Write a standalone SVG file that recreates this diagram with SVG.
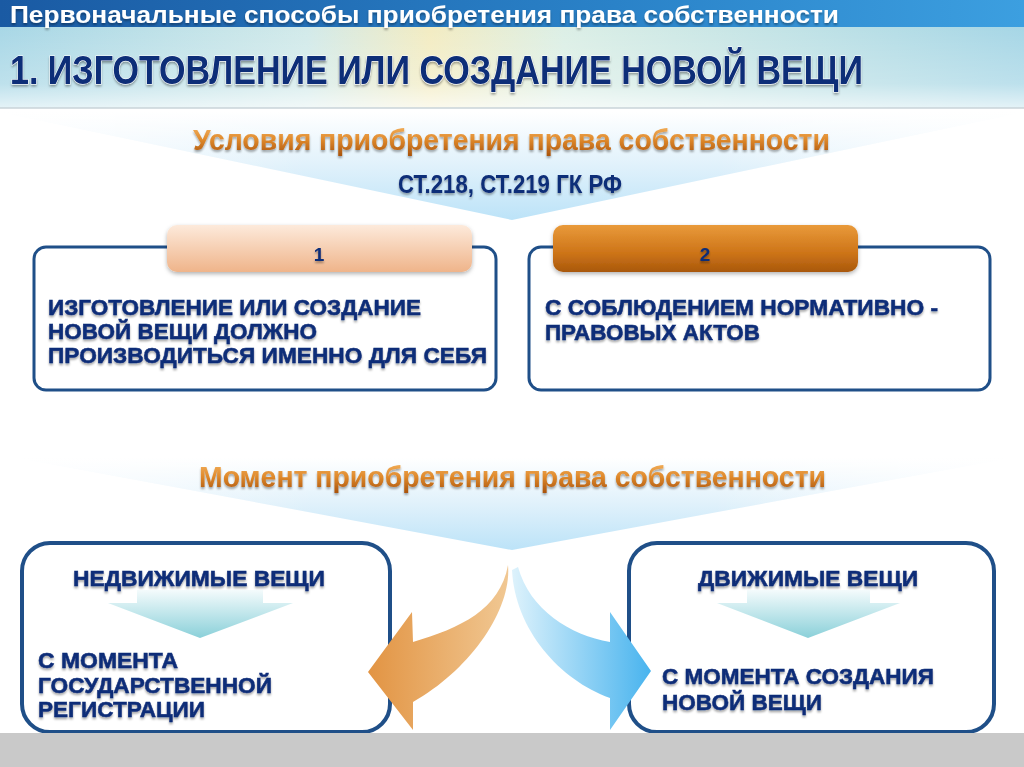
<svg xmlns="http://www.w3.org/2000/svg" width="1024" height="767" viewBox="0 0 1024 767">
<defs>
<linearGradient id="band" x1="0" y1="0" x2="1" y2="0"><stop offset="0" stop-color="#1a5aa3"/><stop offset="0.6" stop-color="#2a82c8"/><stop offset="1" stop-color="#3c9fe0"/></linearGradient>
<linearGradient id="hdr" x1="0" y1="0" x2="1" y2="0"><stop offset="0" stop-color="#a8d7e6"/><stop offset="0.3" stop-color="#d2eaea"/><stop offset="0.42" stop-color="#f3ecc2"/><stop offset="0.55" stop-color="#dcefe6"/><stop offset="1" stop-color="#a6d6e6"/></linearGradient>
<linearGradient id="hdrFade" x1="0" y1="0" x2="0" y2="1"><stop offset="0" stop-color="#fff" stop-opacity="0"/><stop offset="0.7" stop-color="#fff" stop-opacity="0.25"/><stop offset="1" stop-color="#fff" stop-opacity="0.7"/></linearGradient>
<linearGradient id="chev" x1="0" y1="0" x2="0" y2="1"><stop offset="0" stop-color="#ffffff"/><stop offset="0.5" stop-color="#e0f1fb"/><stop offset="1" stop-color="#bce3f8"/></linearGradient>
<linearGradient id="chevSide" x1="0" y1="0" x2="1" y2="0"><stop offset="0" stop-color="#fff" stop-opacity="0.8"/><stop offset="0.3" stop-color="#fff" stop-opacity="0"/><stop offset="0.7" stop-color="#fff" stop-opacity="0"/><stop offset="1" stop-color="#fff" stop-opacity="0.8"/></linearGradient>
<linearGradient id="gold" x1="0" y1="0" x2="0" y2="1"><stop offset="0" stop-color="#f6b868"/><stop offset="0.5" stop-color="#e08a2c"/><stop offset="1" stop-color="#a8520c"/></linearGradient>
<linearGradient id="tab1" x1="0" y1="0" x2="0" y2="1"><stop offset="0" stop-color="#fdeadb"/><stop offset="1" stop-color="#efb48a"/></linearGradient>
<linearGradient id="tab2" x1="0" y1="0" x2="0" y2="1"><stop offset="0" stop-color="#e99a3a"/><stop offset="0.6" stop-color="#cd7418"/><stop offset="1" stop-color="#a9580c"/></linearGradient>
<linearGradient id="down" x1="0" y1="0" x2="0" y2="1"><stop offset="0" stop-color="#f4fbfc"/><stop offset="1" stop-color="#8ad0d9"/></linearGradient>
<linearGradient id="orange" x1="368" y1="0" x2="512" y2="0" gradientUnits="userSpaceOnUse"><stop offset="0" stop-color="#e29443"/><stop offset="1" stop-color="#f1c995"/></linearGradient>
<linearGradient id="blue" x1="508" y1="0" x2="652" y2="0" gradientUnits="userSpaceOnUse"><stop offset="0" stop-color="#e2f4fc"/><stop offset="1" stop-color="#47b3ee"/></linearGradient>
<filter id="sh" x="-5%" y="-20%" width="110%" height="160%"><feDropShadow dx="0" dy="2" stdDeviation="1.2" flood-color="#000" flood-opacity="0.35"/></filter>
<filter id="boxsh" x="-5%" y="-10%" width="110%" height="130%"><feDropShadow dx="0" dy="2" stdDeviation="2" flood-color="#000" flood-opacity="0.3"/></filter>
<style>
.hd{font-family:"Liberation Sans",Arial,sans-serif;font-weight:bold}
.navy{fill:#0f2d78}
.box{fill:#ffffff;stroke:#1f4f88;stroke-width:3}
.big{fill:#ffffff;stroke:#1f4f88;stroke-width:4}
.body{font-family:"Liberation Sans",Arial,sans-serif;font-weight:bold;font-size:22px;fill:#0f2d78;stroke:#0f2d78;stroke-width:0.5}
</style>
</defs>
<rect x="0" y="0" width="1024" height="767" fill="#ffffff"/>
<g id="header">
<rect x="0" y="27" width="1024" height="81" fill="url(#hdr)"/>
<rect x="0" y="27" width="1024" height="81" fill="url(#hdrFade)"/>
<rect x="0" y="0" width="1024" height="27" fill="url(#band)"/>
<line x1="0" y1="108" x2="1024" y2="108" stroke="#c9d3d8" stroke-width="1.5"/>
<text class="hd" x="10" y="23" font-size="24" fill="#ffffff" textLength="829" lengthAdjust="spacingAndGlyphs" filter="url(#sh)">Первоначальные способы приобретения права собственности</text>
<text class="hd navy" x="10" y="84" font-size="40" textLength="853" lengthAdjust="spacingAndGlyphs" stroke="#ffffff" stroke-width="1" paint-order="stroke" filter="url(#sh)">1. ИЗГОТОВЛЕНИЕ ИЛИ СОЗДАНИЕ НОВОЙ ВЕЩИ</text>
</g>
<g id="conditions">
<polygon points="0,112 1024,112 512,220" fill="url(#chev)"/>
<polygon points="0,112 1024,112 512,220" fill="url(#chevSide)"/>
<text class="hd" x="193" y="150" font-size="30" fill="url(#gold)" textLength="637" lengthAdjust="spacingAndGlyphs" filter="url(#sh)">Условия приобретения права собственности</text>
<text class="hd navy" x="398" y="193" font-size="25" textLength="224" lengthAdjust="spacingAndGlyphs" filter="url(#sh)">СТ.218, СТ.219 ГК РФ</text>
</g>
<g id="moment">
<polygon points="18,458 1010,458 512,550" fill="url(#chev)"/>
<polygon points="18,458 1010,458 512,550" fill="url(#chevSide)"/>
<text class="hd" x="199" y="487" font-size="30" fill="url(#gold)" textLength="627" lengthAdjust="spacingAndGlyphs" filter="url(#sh)">Момент приобретения права собственности</text>
</g>
<g id="cond1">
<rect class="box" x="34" y="247" width="462" height="143" rx="12"/>
<rect x="167" y="225" width="305" height="47" rx="10" fill="url(#tab1)" filter="url(#boxsh)"/>
<text class="hd navy" x="319" y="261" font-size="19" text-anchor="middle" filter="url(#sh)">1</text>
<text class="body" filter="url(#sh)"><tspan x="48" y="315" textLength="373" lengthAdjust="spacingAndGlyphs">ИЗГОТОВЛЕНИЕ ИЛИ СОЗДАНИЕ</tspan><tspan x="48" y="339" textLength="269" lengthAdjust="spacingAndGlyphs">НОВОЙ ВЕЩИ ДОЛЖНО</tspan><tspan x="48" y="363" textLength="439" lengthAdjust="spacingAndGlyphs">ПРОИЗВОДИТЬСЯ ИМЕННО ДЛЯ СЕБЯ</tspan></text>
</g>
<g id="cond2">
<rect class="box" x="529" y="247" width="461" height="143" rx="12"/>
<rect x="553" y="225" width="305" height="47" rx="10" fill="url(#tab2)" filter="url(#boxsh)"/>
<text class="hd navy" x="705" y="261" font-size="19" text-anchor="middle" filter="url(#sh)">2</text>
<text class="body" filter="url(#sh)"><tspan x="545" y="315" textLength="393" lengthAdjust="spacingAndGlyphs">С СОБЛЮДЕНИЕМ НОРМАТИВНО -</tspan><tspan x="545" y="340" textLength="215" lengthAdjust="spacingAndGlyphs">ПРАВОВЫХ АКТОВ</tspan></text>
</g>
<g id="immovable">
<rect class="big" x="22" y="543" width="368" height="189" rx="28"/>
<text class="body" x="73" y="586" textLength="252" lengthAdjust="spacingAndGlyphs" filter="url(#sh)">НЕДВИЖИМЫЕ ВЕЩИ</text>
<polygon points="137,590 263,590 263,603 293,603 200,638 108,603 137,603" fill="url(#down)"/>
<text class="body" filter="url(#sh)"><tspan x="38" y="668" textLength="140" lengthAdjust="spacingAndGlyphs">С МОМЕНТА</tspan><tspan x="38" y="693" textLength="234" lengthAdjust="spacingAndGlyphs">ГОСУДАРСТВЕННОЙ</tspan><tspan x="38" y="717" textLength="167" lengthAdjust="spacingAndGlyphs">РЕГИСТРАЦИИ</tspan></text>
</g>
<g id="movable">
<rect class="big" x="629" y="543" width="365" height="189" rx="28"/>
<text class="body" x="698" y="586" textLength="220" lengthAdjust="spacingAndGlyphs" filter="url(#sh)">ДВИЖИМЫЕ ВЕЩИ</text>
<polygon points="747,590 870,590 870,603 900,603 808,638 717,603 747,603" fill="url(#down)"/>
<text class="body" filter="url(#sh)"><tspan x="662" y="684" textLength="272" lengthAdjust="spacingAndGlyphs">С МОМЕНТА СОЗДАНИЯ</tspan><tspan x="662" y="710" textLength="160" lengthAdjust="spacingAndGlyphs">НОВОЙ ВЕЩИ</tspan></text>
</g>
<g id="connectors">
<path d="M508,565 C512,610 470,670 413,702 L413,730 L368,672 L412,612 L413,642 C460,628 500,610 508,565 Z" fill="url(#orange)"/>
<path d="M518,567 C530,610 570,635 610,642 L610,612 L651,671 L610,730 L610,698 C560,680 515,630 512,570 Z" fill="url(#blue)"/>
</g>
<rect x="0" y="733" width="1024" height="34" fill="#c9c9c9"/>
</svg>
